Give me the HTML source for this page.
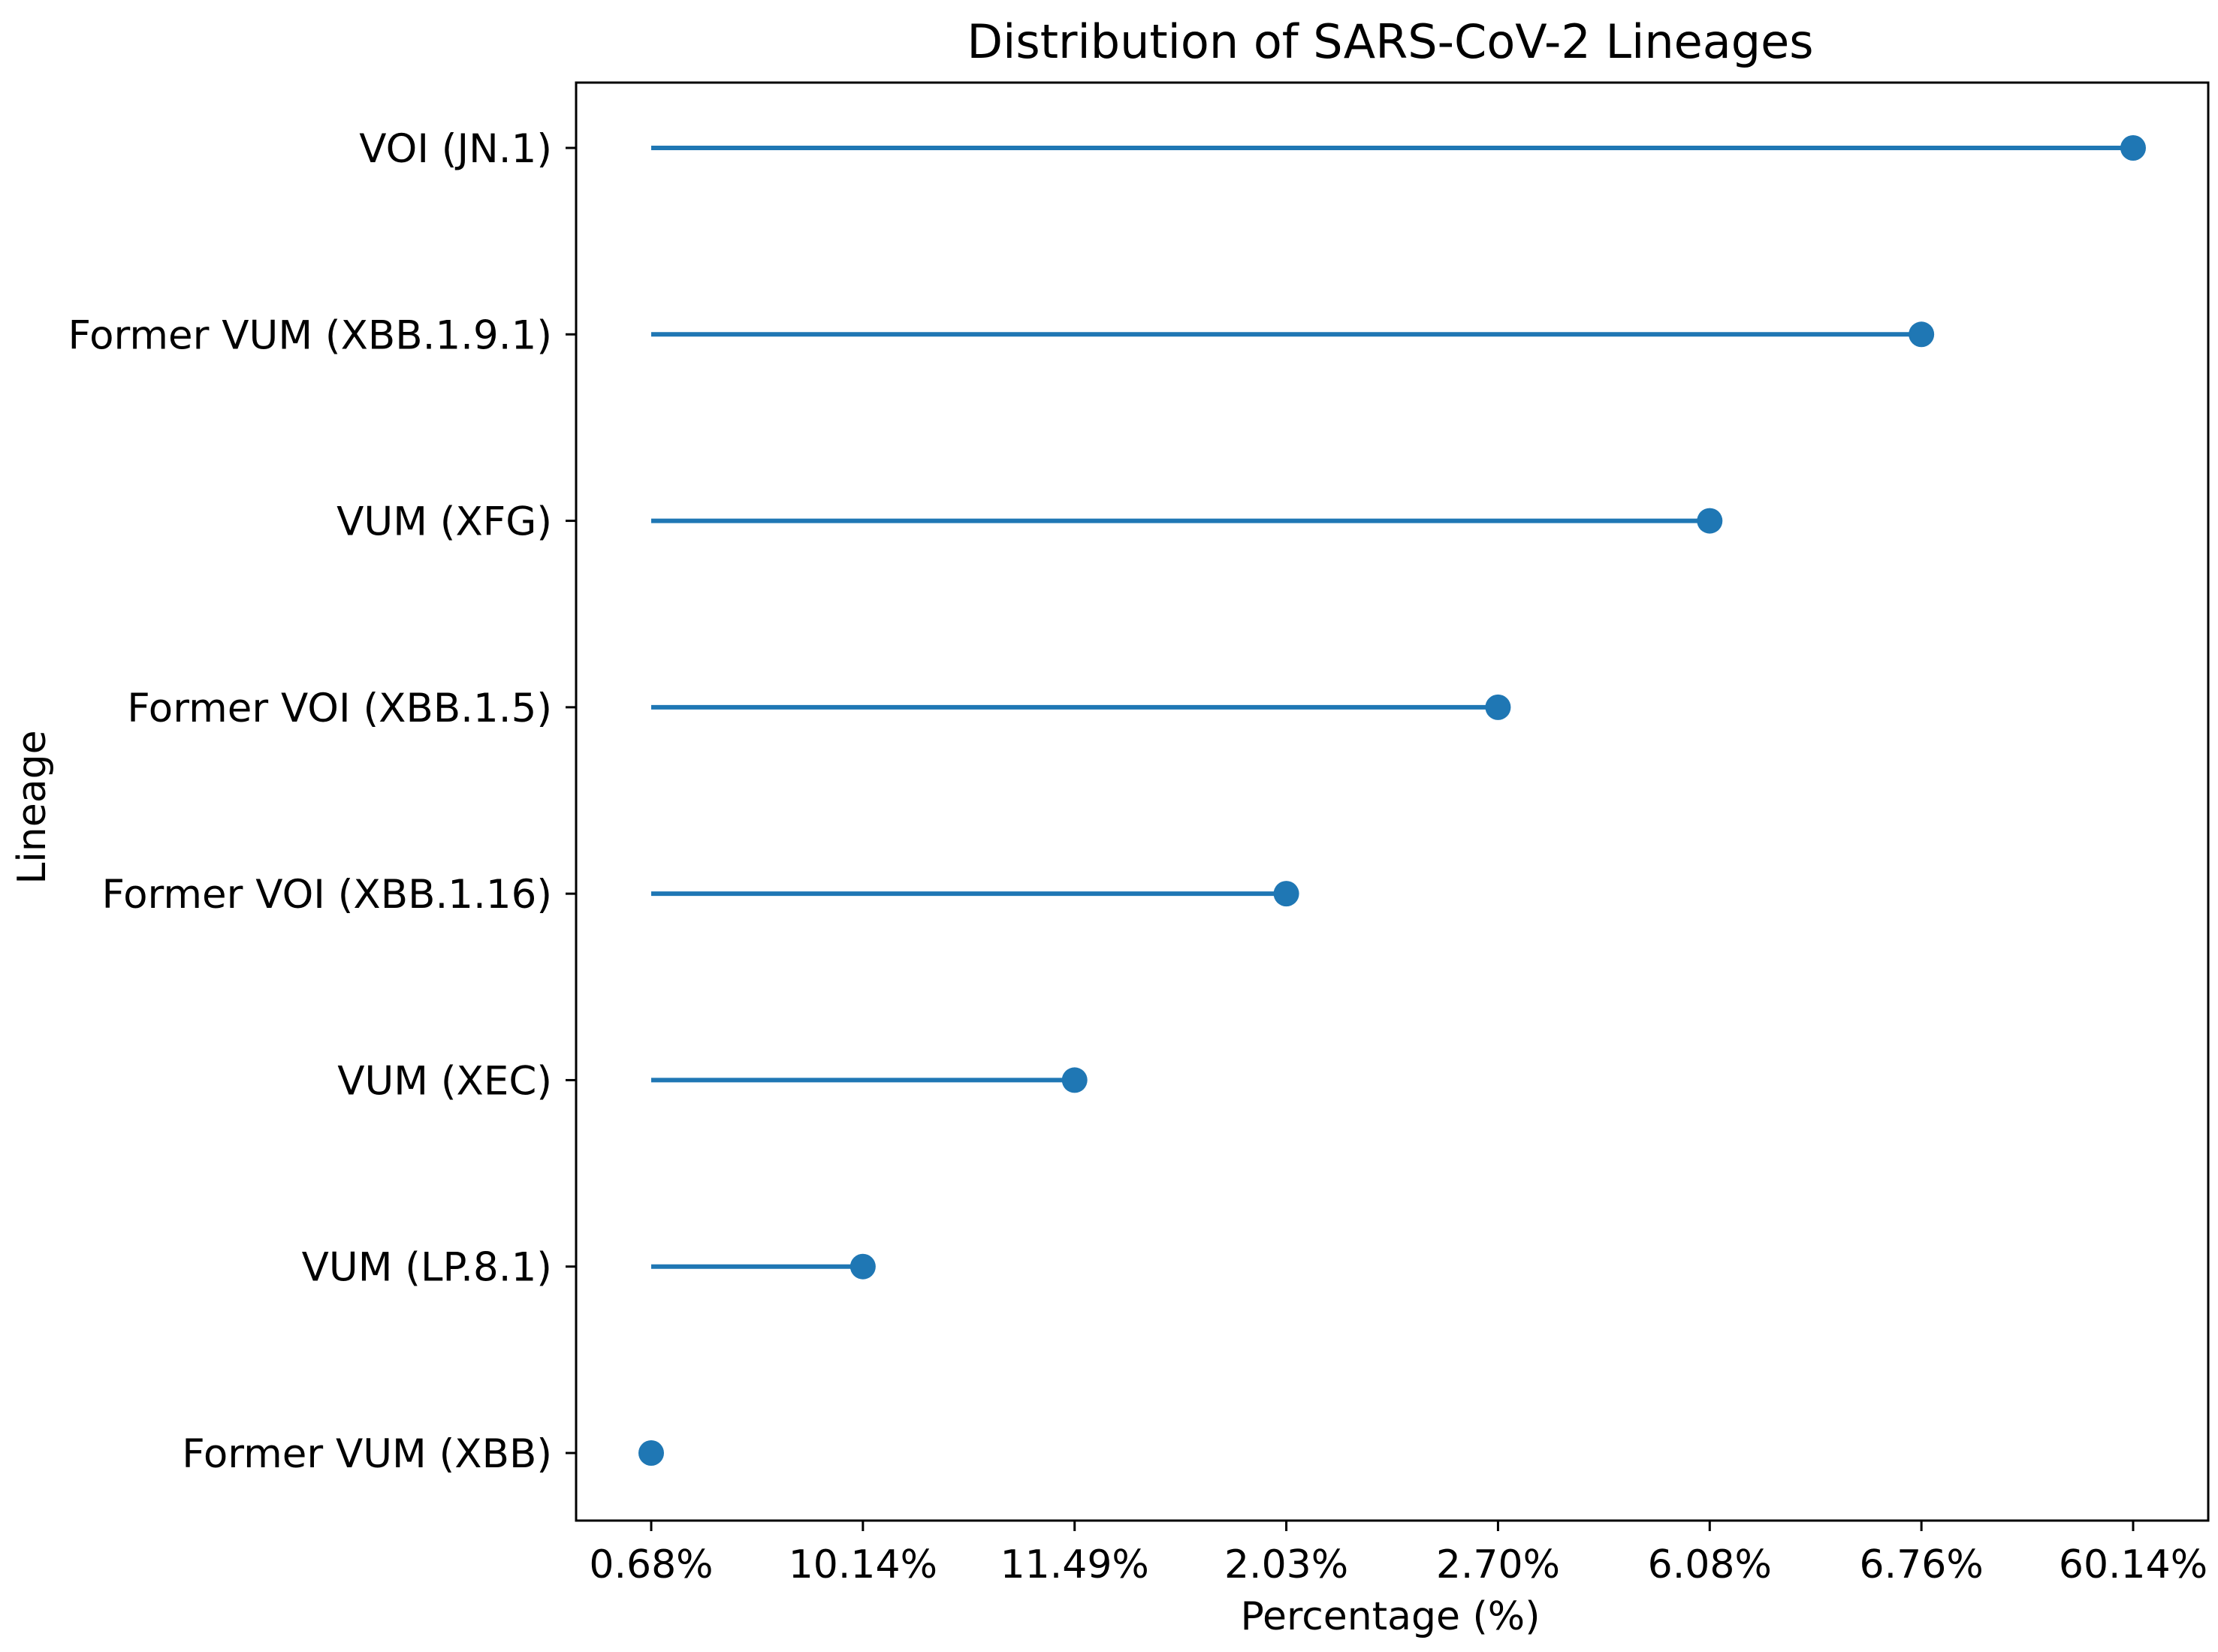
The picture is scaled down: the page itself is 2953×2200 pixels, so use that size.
<!DOCTYPE html>
<html><head><meta charset="utf-8"><style>
html,body{margin:0;padding:0;background:#fff}
svg{display:block;font-family:"DejaVu Sans","Liberation Sans",sans-serif}
</style></head><body>
<svg id="chart" width="2953" height="2200" viewBox="0 0 2953 2200">
<rect width="2953" height="2200" fill="#fff"/>
<text x="1851" y="77" font-size="62" text-anchor="middle" fill="#000">Distribution of SARS-CoV-2 Lineages</text>
<text x="0" y="0" font-size="52" text-anchor="middle" fill="#000" transform="translate(60,1075) rotate(-90)">Lineage</text>
<text x="1851" y="2170" font-size="52" text-anchor="middle" fill="#000">Percentage (%)</text>
<g id="marks"></g>
<g id="axes"></g>
</svg>
<script>
const lineages = ["Former VUM (XBB)","VUM (LP.8.1)","VUM (XEC)","Former VOI (XBB.1.16)","Former VOI (XBB.1.5)","VUM (XFG)","Former VUM (XBB.1.9.1)","VOI (JN.1)"];
const percentages = [0.68, 10.14, 11.49, 2.03, 2.70, 6.08, 6.76, 60.14];
const valueLabels = percentages.map(v => v.toFixed(2) + "%");
const tickLabels = valueLabels.slice().sort();

const NS = "http://www.w3.org/2000/svg";
const L = 767, R = 2940, T = 110, B = 2025;
const x0 = 867, xStep = (2840 - 867) / 7;
const y0 = 1935, yStep = (1935 - 197) / 7;
function xScale(label){ return x0 + tickLabels.indexOf(label) * xStep; }
function yScale(i){ return y0 - i * yStep; }
function mk(tag, attrs, parent){
  const e = document.createElementNS(NS, tag);
  for (const k in attrs) e.setAttribute(k, attrs[k]);
  parent.appendChild(e); return e;
}
const marks = document.getElementById('marks');
const axes = document.getElementById('axes');
const base = xScale(tickLabels[0]);
lineages.forEach((name, i) => {
  const y = yScale(i), x = xScale(valueLabels[i]);
  const ln = mk('line', {x1: base, x2: x, y1: y, y2: y, stroke: '#1f77b4', 'stroke-width': 6}, marks);
  
  
  const c = mk('circle', {cx: x, cy: y, r: 17, fill: '#1f77b4'}, marks);
  
  
  const tk = mk('line', {x1: L - 14, x2: L, y1: y, y2: y, stroke: '#000', 'stroke-width': 3}, axes);
  
  
  const t = mk('text', {x: L - 32, y: y + 19, 'font-size': 53, 'text-anchor': 'end', fill: '#000'}, axes);
  t.textContent = name;
  
  
});
tickLabels.forEach(lab => {
  const x = xScale(lab);
  const tk = mk('line', {x1: x, x2: x, y1: B, y2: B + 14, stroke: '#000', 'stroke-width': 3}, axes);
  
  
  const t = mk('text', {x: x, y: B + 76, 'font-size': 52, 'text-anchor': 'middle', fill: '#000'}, axes);
  t.textContent = lab;
  
  
});
const frame = mk('rect', {x: L, y: T, width: R - L, height: B - T, fill: 'none', stroke: '#000', 'stroke-width': 3}, axes);


</script>
</body></html>
